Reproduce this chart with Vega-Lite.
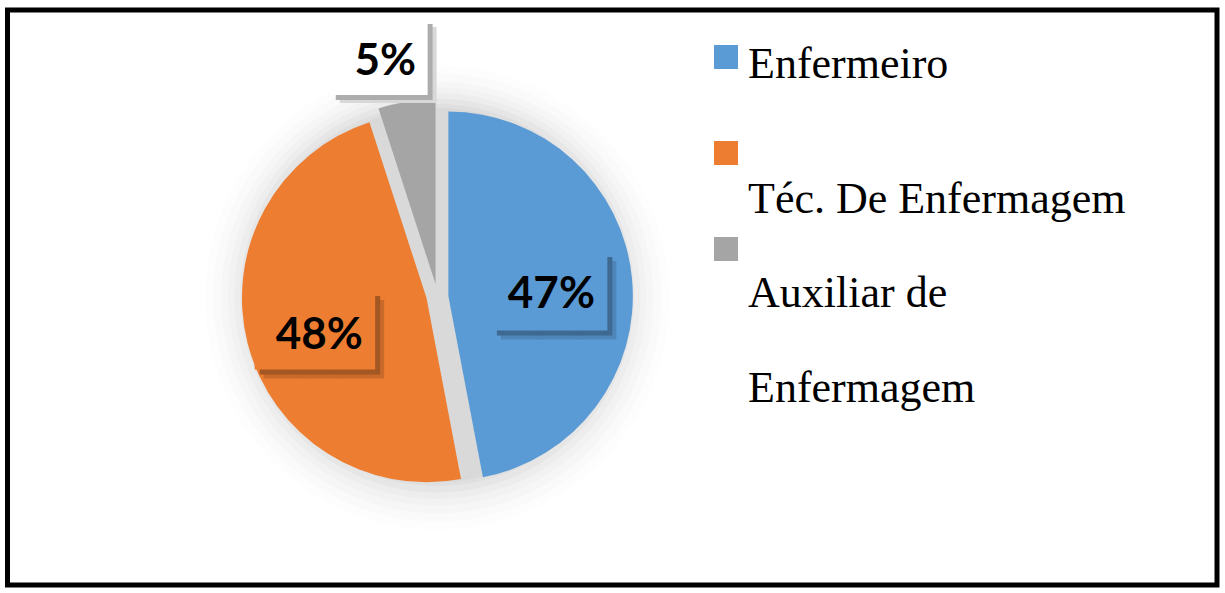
{
  "$schema": "https://vega.github.io/schema/vega-lite/v6.json",
  "width": 1225,
  "height": 593,
  "autosize": {"type": "fit", "contains": "padding"},
  "padding": {"left": 7.5, "top": 10, "right": 8, "bottom": 8},
  "background": "white",
  "view": {"stroke": "black", "strokeWidth": 5, "fill": "white"},
  "data": {
    "values": [
      {"categoria": "Enfermeiro", "percentual": 0.47},
      {"categoria": "Téc. De Enfermagem", "percentual": 0.48},
      {"categoria": "Auxiliar de Enfermagem", "percentual": 0.05}
    ]
  },
  "transform": [
    {"stack": "percentual", "groupby": [], "as": ["inicio", "fim"]},
    {"calculate": "(datum.inicio + datum.fim) / 2", "as": "meio"}
  ],
  "layer": [
    {
      "transform": [{"aggregate": [{"op": "sum", "field": "percentual", "as": "total"}]}],
      "mark": {"type": "arc", "theta": 0, "theta2": 6.2832, "radius": 232, "color": "#FDFDFD", "xOffset": -175, "yOffset": 0},
      "encoding": {}
    },
    {
      "transform": [{"aggregate": [{"op": "sum", "field": "percentual", "as": "total"}]}],
      "mark": {"type": "arc", "theta": 0, "theta2": 6.2832, "radius": 224, "color": "#FAFAFA", "xOffset": -175, "yOffset": 0},
      "encoding": {}
    },
    {
      "transform": [{"aggregate": [{"op": "sum", "field": "percentual", "as": "total"}]}],
      "mark": {"type": "arc", "theta": 0, "theta2": 6.2832, "radius": 216, "color": "#F6F6F6", "xOffset": -175, "yOffset": 0},
      "encoding": {}
    },
    {
      "transform": [{"aggregate": [{"op": "sum", "field": "percentual", "as": "total"}]}],
      "mark": {"type": "arc", "theta": 0, "theta2": 6.2832, "radius": 209, "color": "#F2F2F2", "xOffset": -175, "yOffset": -1},
      "encoding": {}
    },
    {
      "transform": [{"aggregate": [{"op": "sum", "field": "percentual", "as": "total"}]}],
      "mark": {"type": "arc", "theta": 0, "theta2": 6.2832, "radius": 203, "color": "#EDEDED", "xOffset": -175, "yOffset": -1.5},
      "encoding": {}
    },
    {
      "transform": [{"aggregate": [{"op": "sum", "field": "percentual", "as": "total"}]}],
      "mark": {"type": "arc", "theta": 0, "theta2": 6.2832, "radius": 197, "color": "#E6E6E6", "xOffset": -175, "yOffset": -2},
      "encoding": {}
    },
    {
      "transform": [{"aggregate": [{"op": "sum", "field": "percentual", "as": "total"}]}],
      "mark": {"type": "arc", "theta": 0, "theta2": 6.2832, "radius": 191, "color": "#DFDFDF", "xOffset": -175, "yOffset": -2.5},
      "encoding": {}
    },
    {
      "transform": [{"aggregate": [{"op": "sum", "field": "percentual", "as": "total"}]}],
      "mark": {"type": "arc", "theta": 0, "theta2": 6.2832, "radius": 187, "color": "#D9D9D9", "xOffset": -175, "yOffset": -2.5},
      "encoding": {}
    },
    {
      "transform": [{"filter": {"field": "categoria", "equal": "Enfermeiro"}}],
      "mark": {"type": "arc", "radius": 184.5, "xOffset": -163.9, "yOffset": -1.45},
      "encoding": {
        "theta": {"field": "inicio", "type": "quantitative", "stack": null, "scale": {"domain": [0, 1]}},
        "theta2": {"field": "fim"},
        "color": {
          "field": "categoria",
          "type": "nominal",
          "scale": {
            "domain": ["Enfermeiro", "Téc. De Enfermagem", "Auxiliar de Enfermagem"],
            "range": ["#5B9BD5", "#ED7D31", "#A5A5A5"]
          },
          "legend": {
            "orient": "none",
            "legendX": 696.5,
            "legendY": 25,
            "title": null,
            "padding": 0,
            "symbolType": "square",
            "symbolSize": 576,
            "symbolStrokeWidth": 0,
            "symbolOpacity": 1,
            "labelFont": "Liberation Serif",
            "labelFontSize": 44,
            "labelColor": "black",
            "labelLimit": 0,
            "labelOffset": 0,
            "labelBaseline": "alphabetic",
            "gridAlign": "each",
            "rowPadding": 5,
            "labelExpr": "datum.value == 'Auxiliar de Enfermagem' ? ['Auxiliar de', 'Enfermagem'] : (datum.value == 'Enfermeiro' ? ['Enfermeiro', ''] : ['', datum.label])",
            "encode": {
              "labels": {
                "update": {
                  "dy": {"signal": "datum.value == 'Auxiliar de Enfermagem' ? 58 : 20.5"},
                  "lineHeight": {"signal": "datum.value == 'Auxiliar de Enfermagem' ? 95 : 39"}
                }
              }
            }
          }
        }
      }
    },
    {
      "transform": [{"filter": {"field": "categoria", "equal": "Téc. De Enfermagem"}}],
      "mark": {"type": "arc", "radius": 184.5, "xOffset": -185.8, "yOffset": 0.3},
      "encoding": {
        "theta": {"field": "inicio", "type": "quantitative", "stack": null},
        "theta2": {"field": "fim"},
        "color": {"field": "categoria", "type": "nominal"}
      }
    },
    {
      "transform": [{"filter": {"field": "categoria", "equal": "Auxiliar de Enfermagem"}}],
      "mark": {"type": "arc", "radius": 184.5, "xOffset": -176.7, "yOffset": -13.5},
      "encoding": {
        "theta": {"field": "inicio", "type": "quantitative", "stack": null},
        "theta2": {"field": "fim"},
        "color": {"field": "categoria", "type": "nominal"}
      }
    },
    {
      "transform": [{"filter": {"field": "categoria", "equal": "Enfermeiro"}}],
      "mark": {"type": "text", "radius": 103.5, "xOffset": -163.9, "yOffset": -1.45, "dx": 10, "dy": 17, "font": "DejaVu Sans Mono", "fontSize": 66, "color": "#4E86BA", "align": "center", "baseline": "middle"},
      "encoding": {
        "theta": {"field": "meio", "type": "quantitative", "stack": null},
        "text": {"value": "██▉"}
      }
    },
    {
      "transform": [{"filter": {"field": "categoria", "equal": "Enfermeiro"}}],
      "mark": {"type": "text", "radius": 103.5, "xOffset": -163.9, "yOffset": -1.45, "dx": 6, "dy": 13, "font": "DejaVu Sans Mono", "fontSize": 66, "color": "#3E6990", "align": "center", "baseline": "middle"},
      "encoding": {
        "theta": {"field": "meio", "type": "quantitative", "stack": null},
        "text": {"value": "██▉"}
      }
    },
    {
      "transform": [{"filter": {"field": "categoria", "equal": "Enfermeiro"}}],
      "mark": {"type": "text", "radius": 103.5, "xOffset": -163.9, "yOffset": -1.45, "dx": 1, "dy": 8, "font": "DejaVu Sans Mono", "fontSize": 66, "color": "#5B9BD5", "align": "center", "baseline": "middle"},
      "encoding": {
        "theta": {"field": "meio", "type": "quantitative", "stack": null},
        "text": {"value": "██▉"}
      }
    },
    {
      "transform": [{"filter": {"field": "categoria", "equal": "Téc. De Enfermagem"}}],
      "mark": {"type": "text", "radius": 110.7, "xOffset": -185.8, "yOffset": 0.3, "dx": 5, "dy": 17, "font": "DejaVu Sans Mono", "fontSize": 66, "color": "#C96A2A", "align": "center", "baseline": "middle"},
      "encoding": {
        "theta": {"field": "meio", "type": "quantitative", "stack": null},
        "text": {"value": "███"}
      }
    },
    {
      "transform": [{"filter": {"field": "categoria", "equal": "Téc. De Enfermagem"}}],
      "mark": {"type": "text", "radius": 110.7, "xOffset": -185.8, "yOffset": 0.3, "dx": 1, "dy": 13, "font": "DejaVu Sans Mono", "fontSize": 66, "color": "#A35722", "align": "center", "baseline": "middle"},
      "encoding": {
        "theta": {"field": "meio", "type": "quantitative", "stack": null},
        "text": {"value": "███"}
      }
    },
    {
      "transform": [{"filter": {"field": "categoria", "equal": "Téc. De Enfermagem"}}],
      "mark": {"type": "text", "radius": 110.7, "xOffset": -185.8, "yOffset": 0.3, "dx": -4, "dy": 8, "font": "DejaVu Sans Mono", "fontSize": 66, "color": "#ED7D31", "align": "center", "baseline": "middle"},
      "encoding": {
        "theta": {"field": "meio", "type": "quantitative", "stack": null},
        "text": {"value": "███"}
      }
    },
    {
      "transform": [{"filter": {"field": "categoria", "equal": "Auxiliar de Enfermagem"}}],
      "mark": {"type": "text", "radius": 226, "xOffset": -176.7, "yOffset": -13.5, "dx": -2, "dy": 7, "font": "DejaVu Sans Mono", "fontSize": 64, "color": "#D8D8D8", "align": "center", "baseline": "middle"},
      "encoding": {
        "theta": {"field": "meio", "type": "quantitative", "stack": null},
        "text": {"value": "██▌"}
      }
    },
    {
      "transform": [{"filter": {"field": "categoria", "equal": "Auxiliar de Enfermagem"}}],
      "mark": {"type": "text", "radius": 226, "xOffset": -176.7, "yOffset": -13.5, "dx": -6, "dy": 4, "font": "DejaVu Sans Mono", "fontSize": 64, "color": "#ADADAD", "align": "center", "baseline": "middle"},
      "encoding": {
        "theta": {"field": "meio", "type": "quantitative", "stack": null},
        "text": {"value": "██▌"}
      }
    },
    {
      "transform": [{"filter": {"field": "categoria", "equal": "Auxiliar de Enfermagem"}}],
      "mark": {"type": "text", "radius": 226, "xOffset": -176.7, "yOffset": -13.5, "dx": -11, "dy": -1, "font": "DejaVu Sans Mono", "fontSize": 64, "color": "#FFFFFF", "align": "center", "baseline": "middle"},
      "encoding": {
        "theta": {"field": "meio", "type": "quantitative", "stack": null},
        "text": {"value": "██▌"}
      }
    },
    {
      "transform": [{"filter": {"field": "categoria", "equal": "Enfermeiro"}}],
      "mark": {"type": "text", "radius": 103.5, "xOffset": -163.9, "yOffset": -1.45, "dy": 9, "font": "Lato", "fontWeight": "bold", "fontSize": 44, "color": "black", "align": "center", "baseline": "middle"},
      "encoding": {
        "theta": {"field": "meio", "type": "quantitative", "stack": null},
        "text": {"field": "percentual", "type": "quantitative", "format": ".0%"}
      }
    },
    {
      "transform": [{"filter": {"field": "categoria", "equal": "Téc. De Enfermagem"}}],
      "mark": {"type": "text", "radius": 110.7, "xOffset": -185.8, "yOffset": 0.3, "dy": 11, "font": "Lato", "fontWeight": "bold", "fontSize": 44, "color": "black", "align": "center", "baseline": "middle"},
      "encoding": {
        "theta": {"field": "meio", "type": "quantitative", "stack": null},
        "text": {"field": "percentual", "type": "quantitative", "format": ".0%"}
      }
    },
    {
      "transform": [{"filter": {"field": "categoria", "equal": "Auxiliar de Enfermagem"}}],
      "mark": {"type": "text", "radius": 226, "xOffset": -176.7, "yOffset": -13.5, "dx": -15, "dy": 1, "font": "Lato", "fontWeight": "bold", "fontSize": 44, "color": "black", "align": "center", "baseline": "middle"},
      "encoding": {
        "theta": {"field": "meio", "type": "quantitative", "stack": null},
        "text": {"field": "percentual", "type": "quantitative", "format": ".0%"}
      }
    }
  ]
}
